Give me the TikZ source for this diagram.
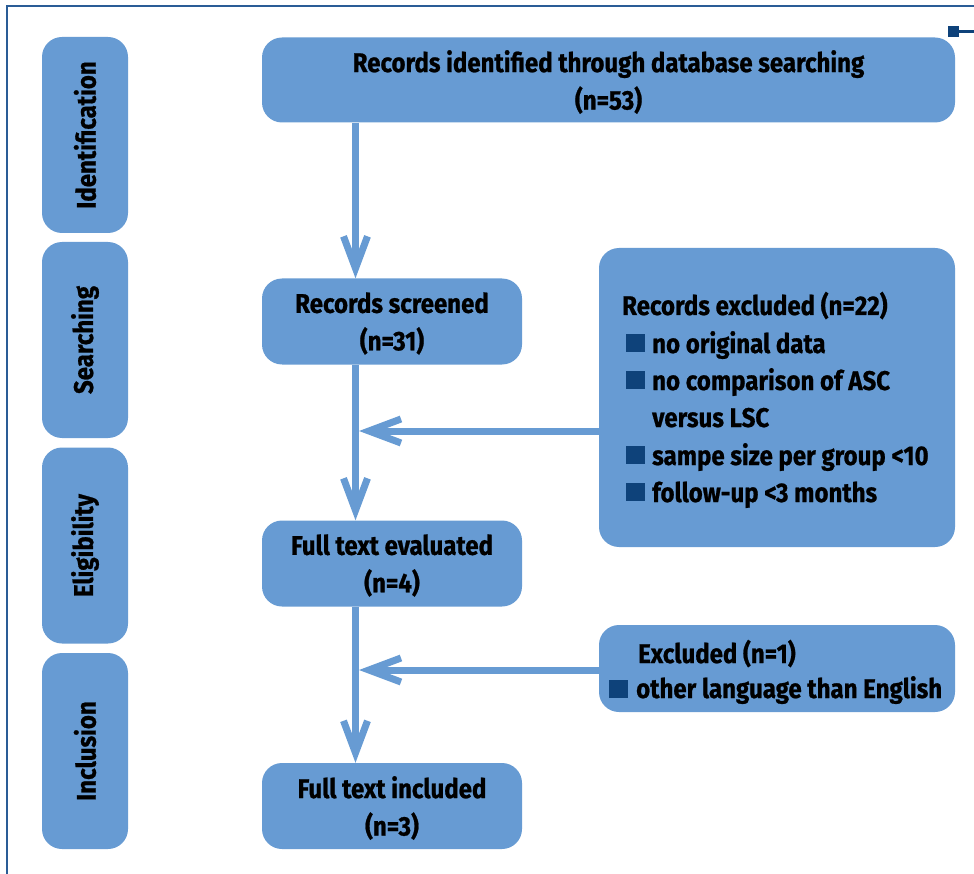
\documentclass[tikz,border=0pt]{standalone}
\usepackage{fontspec}
\setmainfont{Fira Sans}[FakeStretch=0.89, BoldFeatures={FakeBold=0.8}]
\usetikzlibrary{arrows.meta}
\definecolor{boxc}{RGB}{103,155,211}
\definecolor{bulc}{RGB}{14,66,122}
\definecolor{framec}{RGB}{42,92,150}
\tikzset{
  box/.style={rectangle, rounded corners=20pt, fill=boxc, draw=none, inner sep=0pt, align=center,
    font=\fontsize{27}{37.5}\selectfont\bfseries},
  side/.style={box, minimum width=86pt, minimum height=196pt},
  mainbox/.style={box, minimum width=260pt, minimum height=86pt},
  ctxt/.style={inner sep=0pt, align=center, font=\fontsize{27}{37.5}\selectfont\bfseries},
  txt/.style={inner sep=0pt, font=\fontsize{27}{37}\selectfont\bfseries},
  bul/.style={rectangle, fill=bulc, minimum width=19pt, minimum height=18pt, inner sep=0pt},
  conn/.style={draw=boxc, line width=7pt},
  arr/.style={conn, -{Straight Barb[length=32pt,width=24pt]}},
}
\begin{document}
\begin{tikzpicture}[x=1pt,y=-1pt]
\useasboundingbox (0,0) rectangle (974,874);
% frame
\draw[framec, line width=1.6pt] (7,874) -- (7,6) -- (974,6);
\fill[bulc] (948,26) rectangle (959,37);
\draw[bulc, line width=2.5pt] (959,31.5) -- (974,31.5);
% side boxes
\node[side] (s1) at (85,135) {\rotatebox{90}{Identification}};
\node[side] (s2) at (85,340) {\rotatebox{90}{Searching}};
\node[side] (s3) at (85,545.5) {\rotatebox{90}{Eligibility}};
\node[side] (s4) at (85,751) {\rotatebox{90}{Inclusion}};
% main boxes
\node[box, minimum width=693pt, minimum height=85pt] (b1) at (608.5,80) {};
\node[mainbox] (b2) at (392,321.5) {};
\node[mainbox] (b3) at (392,563.5) {};
\node[mainbox] (b4) at (392,806) {};
\node[ctxt] (b1t) at ([yshift=-2pt]b1.center) {Records identified through database searching\\(n=53)};
\node[ctxt] (b2t) at ([yshift=-2pt]b2.center) {Records screened\\(n=31)};
\node[ctxt] (b3t) at ([yshift=-2pt]b3.center) {Full text evaluated\\(n=4)};
\node[ctxt] (b4t) at ([yshift=-2pt]b4.center) {Full text included\\(n=3)};
% right boxes
\node[box, minimum width=356pt, minimum height=299pt] (r1) at (777,397.5) {};
\node[box, minimum width=356pt, minimum height=87pt] (r2) at (777,668.5) {};
\node[txt, anchor=base west] (r1h) at (622,315) {Records excluded (n=22)};
\node[bul] (r1b1) at (635.5,343) {};
\node[txt, anchor=base west] (r1t1) at (652,353) {no original data};
\node[bul] (r1b2) at (635.5,380) {};
\node[txt, anchor=base west] (r1t2) at (652,390) {no comparison of ASC};
\node[txt, anchor=base west] (r1t3) at (652,427) {versus LSC};
\node[bul] (r1b3) at (635.5,455) {};
\node[txt, anchor=base west] (r1t4) at (652,465) {sampe size per group <10};
\node[bul] (r1b4) at (635.5,492) {};
\node[txt, anchor=base west] (r1t5) at (652,502) {follow-up <3 months};
\node[txt, anchor=base west] (r2h) at (638,663) {Excluded (n=1)};
\node[bul] (r2b1) at (618,688.5) {};
\node[txt, anchor=base west] (r2t1) at (636,698) {other language than English};
% connectors
\coordinate (ax) at (355.5,0);
\coordinate (h1) at (359,431);
\coordinate (h2) at (359,670);
\draw[arr] (ax |- b1.south) -- (ax |- b2.north);
\draw[arr] (ax |- b2.south) -- (ax |- b3.north);
\draw[arr] (ax |- b3.south) -- (ax |- b4.north);
\draw[arr] (r1.west |- h1) -- (h1);
\draw[arr] (r2.west |- h2) -- (h2);
\end{tikzpicture}
\end{document}
